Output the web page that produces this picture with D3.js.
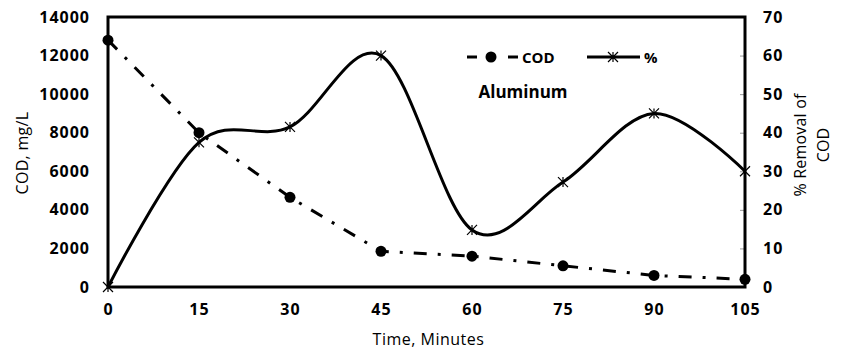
<!DOCTYPE html>
<html>
<head>
<meta charset="utf-8">
<script src="https://cdn.jsdelivr.net/npm/d3@7"></script>
<style>
  body { margin: 0; background: #fff; }
  svg text { font-family: "Open Sans", "Noto Sans", sans-serif; fill: #000; }
</style>
</head>
<body>
<div id="chart"></div>
<script>
// data
var times = [0, 15, 30, 45, 60, 75, 90, 105],
    codValues = [12800, 8000, 4650, 1850, 1600, 1100, 600, 400],
    removalValues = [0, 37.5, 41.5, 60, 14.8, 27.2, 45, 30],
    leftTicks = [0, 2000, 4000, 6000, 8000, 10000, 12000, 14000],
    rightTicks = [0, 10, 20, 30, 40, 50, 60, 70];

var svgWidth = 849,
    svgHeight = 349,
    plot = {left: 108, right: 745, top: 17, bottom: 287};

var svg = d3.select('#chart')
  .append('svg')
  .attr('width', svgWidth)
  .attr('height', svgHeight);

var x = d3.scaleLinear().domain([0, 105]).range([plot.left, plot.right]),
    yLeft = d3.scaleLinear().domain([0, 14000]).range([plot.bottom, plot.top]),
    yRight = d3.scaleLinear().domain([0, 70]).range([plot.bottom, plot.top]);

// right axis small inner ticks
svg.append('g')
  .attr('transform', 'translate(' + plot.right + ',0)')
  .call(d3.axisLeft(yRight).tickValues(rightTicks.slice(1, -1)).tickSize(5).tickFormat(''))
  .call(function(g){
    g.select('.domain').remove();
    g.selectAll('line').attr('stroke', '#999');
  });

// plot frame
svg.append('rect')
  .attr('x', plot.left)
  .attr('y', plot.top)
  .attr('width', plot.right - plot.left)
  .attr('height', plot.bottom - plot.top)
  .attr('fill', 'none')
  .attr('stroke', '#000')
  .attr('stroke-width', 3);

function styleTicks(g){
  g.select('.domain').remove();
  g.selectAll('text')
    .attr('font-size', 16)
    .attr('font-weight', 'bold')
    .attr('letter-spacing', 1);
}

svg.append('g')
  .attr('transform', 'translate(' + plot.left + ',0)')
  .call(d3.axisLeft(yLeft).tickValues(leftTicks).tickFormat(d3.format('d')).tickSize(0).tickPadding(18))
  .call(styleTicks);

svg.append('g')
  .attr('transform', 'translate(' + plot.right + ',0)')
  .call(d3.axisRight(yRight).tickValues(rightTicks).tickFormat(d3.format('d')).tickSize(0).tickPadding(18))
  .call(styleTicks);

svg.append('g')
  .attr('transform', 'translate(0,' + plot.bottom + ')')
  .call(d3.axisBottom(x).tickValues(times).tickFormat(d3.format('d')).tickSize(0).tickPadding(17))
  .call(styleTicks);

// axis titles
svg.append('text')
  .attr('transform', 'translate(28,153) rotate(-90)')
  .attr('text-anchor', 'middle')
  .attr('font-size', 16)
  .attr('letter-spacing', 0.3)
  .text('COD, mg/L');

svg.append('text')
  .attr('x', (plot.left + plot.right) / 2 + 2)
  .attr('y', 345)
  .attr('text-anchor', 'middle')
  .attr('font-size', 16)
  .attr('letter-spacing', 0.5)
  .text('Time, Minutes');

var rightTitle = svg.append('text')
  .attr('transform', 'translate(0,145) rotate(-90)')
  .attr('text-anchor', 'middle')
  .attr('font-size', 16)
  .attr('letter-spacing', 0.2);
rightTitle.append('tspan').attr('x', 0).attr('y', 806).text('% Removal of');
rightTitle.append('tspan').attr('x', 0).attr('y', 829).text('COD');

// % removal curve (smoothed)
var removalLine = d3.line()
  .x(function(d, i){ return x(times[i]); })
  .y(function(d){ return yRight(d); })
  .curve(d3.curveCardinal.tension(0));

svg.append('path')
  .datum(removalValues)
  .attr('d', removalLine)
  .attr('fill', 'none')
  .attr('stroke', '#000')
  .attr('stroke-width', 3);

function star(g, cx, cy){
  var r = 5;
  g.append('path')
    .attr('d', 'M' + cx + ',' + (cy - r) + 'V' + (cy + r) +
      'M' + (cx - r) + ',' + (cy - r) + 'L' + (cx + r) + ',' + (cy + r) +
      'M' + (cx - r) + ',' + (cy + r) + 'L' + (cx + r) + ',' + (cy - r))
    .attr('stroke', '#000')
    .attr('stroke-width', 1.2)
    .attr('fill', 'none');
}

var stars = svg.append('g');
removalValues.forEach(function(d, i){
  star(stars, x(times[i]), yRight(d));
});

// COD line (dash-dot)
var codLine = d3.line()
  .x(function(d, i){ return x(times[i]); })
  .y(function(d){ return yLeft(d); });

svg.append('path')
  .datum(codValues)
  .attr('d', codLine)
  .attr('fill', 'none')
  .attr('stroke', '#000')
  .attr('stroke-width', 3)
  .attr('stroke-dasharray', '13,11,3,11');

svg.selectAll('circle.cod')
  .data(codValues)
  .enter()
  .append('circle')
  .attr('class', 'cod')
  .attr('cx', function(d, i){ return x(times[i]); })
  .attr('cy', function(d){ return yLeft(d); })
  .attr('r', 5.5)
  .attr('fill', '#000');

// legend
var legend = svg.append('g');
legend.append('line')
  .attr('x1', 467).attr('x2', 477).attr('y1', 57).attr('y2', 57)
  .attr('stroke', '#000').attr('stroke-width', 3);
legend.append('line')
  .attr('x1', 508).attr('x2', 518).attr('y1', 57).attr('y2', 57)
  .attr('stroke', '#000').attr('stroke-width', 3);
legend.append('circle')
  .attr('cx', 491).attr('cy', 57).attr('r', 5.5).attr('fill', '#000');
legend.append('text')
  .attr('x', 522).attr('y', 62.5)
  .attr('font-size', 15).attr('font-weight', 'bold')
  .text('COD');
legend.append('line')
  .attr('x1', 587).attr('x2', 640).attr('y1', 57).attr('y2', 57)
  .attr('stroke', '#000').attr('stroke-width', 3);
star(legend, 613, 57);
legend.append('text')
  .attr('x', 644).attr('y', 62.5)
  .attr('font-size', 15).attr('font-weight', 'bold')
  .text('%');

svg.append('text')
  .attr('x', 523).attr('y', 98)
  .attr('text-anchor', 'middle')
  .attr('font-size', 17).attr('font-weight', 'bold')
  .text('Aluminum');
</script>
</body>
</html>
